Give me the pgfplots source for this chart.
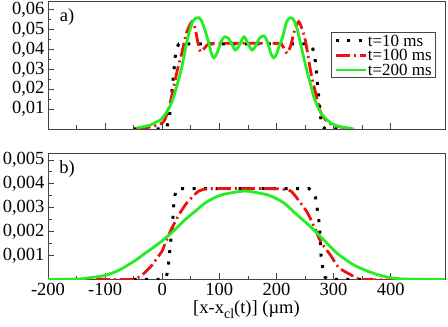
\documentclass[border=0pt]{standalone}
\usepackage{fontspec}
\setmainfont{Liberation Serif}
\usepackage{pgfplots}
\pgfplotsset{compat=1.18}

\definecolor{axgray}{HTML}{444444}
\definecolor{cgreen}{HTML}{22EE22}
\definecolor{cred}{HTML}{EE1111}

\pgfplotsset{
  panel/.style={
    scale only axis, width=397pt,
    xmin=-200, xmax=495, ymin=0,
    xtick={-200,-100,...,400}, minor x tick num=1,
    minor y tick num=1,
    xtick pos=bottom, ytick pos=left,
    tick align=inside,
    major tick length=6pt, minor tick length=3.5pt,
    axis line style={axgray, line width=0.9pt},
    every tick/.style={axgray, line width=0.8pt},
    /pgf/number format/assume math mode=true,
    /pgf/number format/use comma,
    /pgf/number format/fixed,
    /pgf/number format/fixed zerofill,
    scaled y ticks=false,
    xticklabel style={/pgf/number format/precision=0},
  },
  dotblk/.style={black, line width=3pt, dash pattern=on 3pt off 8.5pt},
  dashred/.style={cred, line width=2.8pt, dash pattern=on 14pt off 4pt on 2pt off 4pt},
  solgrn/.style={cgreen, line width=2.8pt},
}

\begin{document}
\begin{tikzpicture}[font=\fontsize{18.5}{21}\selectfont]
\useasboundingbox (0,0) rectangle (448pt,327pt);

% ---- a) ----
\begin{axis}[panel, at={(48pt,198pt)}, anchor=south west, height=128pt,
  ymax=0.0643, ytick={0.01,0.02,...,0.06},
  yticklabel style={/pgf/number format/precision=2},
  xticklabels={},
  legend image code/.code={\draw[#1] (0pt,0pt) -- (30pt,0pt);},
  every axis legend/.style={
    at={(axis description cs:0.977,0.755)}, anchor=north east,
    shape=rectangle, fill=white, draw=axgray, line width=0.9pt,
    font=\fontsize{17}{14}\selectfont,
    inner xsep=3pt, inner ysep=1.5pt,
    cells={anchor=west, inner sep=0.6pt},
    row sep=2pt,
  },
]
\addplot[dotblk] coordinates {
 (-50,0) (0,0) (5,0.0003) (8,0.001) (11,0.004) (13,0.0073) (15,0.013) (17,0.019)
 (19,0.025) (21,0.031) (23,0.037) (26,0.041) (29,0.0427) (255,0.0427) (260,0.0418)
 (264,0.040) (268,0.034) (270,0.028) (272,0.022) (274,0.016) (276,0.010) (278,0.004)
 (281,0.001) (285,0.0002) (300,0) (330,0)
};
\addlegendentry{t=10 ms}
\addplot[dashred, smooth, tension=0.4] coordinates {
 (-45,0) (-21,0.001) (-10,0.0018) (0,0.003) (5,0.005) (13,0.012) (20,0.021) (26,0.029)
 (35,0.039) (42,0.048) (52,0.0539) (58,0.050) (63,0.0425) (67,0.0388) (72,0.040)
 (80,0.0425) (90,0.043) (200,0.043) (210,0.042) (215,0.0395) (219,0.038) (225,0.042)
 (232,0.050) (239,0.0539) (245,0.050) (251,0.0438) (260,0.0287) (268,0.0187)
 (277,0.0087) (289,0.0036) (300,0.002) (312,0.001) (335,0)
};
\addlegendentry{t=100 ms}
\addplot[solgrn, smooth, tension=0.5] coordinates {
 (-44,0.0006) (-30,0.0013) (-21,0.002) (-10,0.0035) (-3.5,0.0045) (3,0.0065) (8,0.0087)
 (17,0.0137) (26,0.022) (35,0.032) (43,0.0438) (52,0.053) (58,0.0555) (64,0.0559)
 (68,0.0548) (72,0.052) (81,0.0438) (86,0.038) (90,0.0358) (94,0.037) (99,0.0405)
 (105,0.045) (110,0.0463) (116,0.0455) (122,0.0425) (128,0.0397) (135,0.042)
 (143,0.0463) (150,0.043) (157,0.0397) (163,0.0415) (170,0.0455) (178,0.0468)
 (184,0.044) (190,0.038) (195,0.0358) (200,0.0375) (205,0.042) (210,0.0455)
 (218,0.054) (225,0.0559) (230,0.0548) (236,0.0505) (242,0.043) (248,0.0355)
 (254,0.0285) (260,0.022) (265,0.0165) (271,0.012) (278,0.008) (286,0.0053)
 (295,0.003) (306,0.0016) (320,0.0007) (333,0.0002)
};
\addlegendentry{t=200 ms}
\node at (rel axis cs:0.048,0.875) {a)};
\end{axis}

% ---- b) ----
\begin{axis}[panel, at={(48pt,47.5pt)}, anchor=south west, height=126.5pt,
  ymax=0.00529, ytick={0.001,0.002,...,0.005},
  yticklabel style={/pgf/number format/precision=3},
  xlabel={[x-x\raisebox{-5pt}{\fontsize{14}{14}\selectfont cl}(t)] (µm)},
  xlabel style={yshift=2pt},
]
\addplot[dotblk] coordinates {
 (-50,0) (0,0) (7,0.0001) (10,0.0004) (12,0.0009) (14,0.0014) (16,0.0019) (18,0.0023)
 (19.5,0.0029) (21,0.0034) (24,0.0037) (27,0.0038) (257,0.0038) (265,0.0036)
 (268,0.0035) (271,0.003) (274,0.0025) (276,0.002) (277,0.0015) (278,0.001)
 (281,0.0005) (285,0.0001) (290,0) (375,0)
};
\addplot[dashred, smooth, tension=0.4] coordinates {
 (-200,0) (-60,0) (-41,0.0001) (-30,0.0003) (-18,0.0006) (-9,0.0009) (0,0.0012)
 (5,0.0015) (14,0.002) (29,0.0027) (43,0.0032) (64,0.0037) (87,0.0038) (189,0.0038)
 (207,0.00378) (225,0.0037) (239,0.0033) (254,0.0028) (268,0.0021) (277,0.0016)
 (295,0.001) (309,0.0005) (330,0.0002) (353,0) (495,0)
};
\addplot[solgrn, smooth] coordinates {
 (-200,0) (-147,0.00002) (-125,0.00008) (-100,0.00017) (-75,0.0004) (-47,0.0008)
 (-30,0.0011) (-12,0.0014) (14,0.0019) (40,0.0025) (60,0.0029) (75,0.0032) (99,0.0035)
 (120,0.00362) (145,0.0037) (168,0.00362) (189,0.0035) (213,0.0032) (236,0.0027)
 (260,0.0022) (283,0.00165) (306,0.0011) (336,0.0006) (365,0.0003) (394,0.0001)
 (423,0.00002) (495,0)
};
\node at (rel axis cs:0.048,0.874) {b)};
\end{axis}
\end{tikzpicture}
\end{document}
